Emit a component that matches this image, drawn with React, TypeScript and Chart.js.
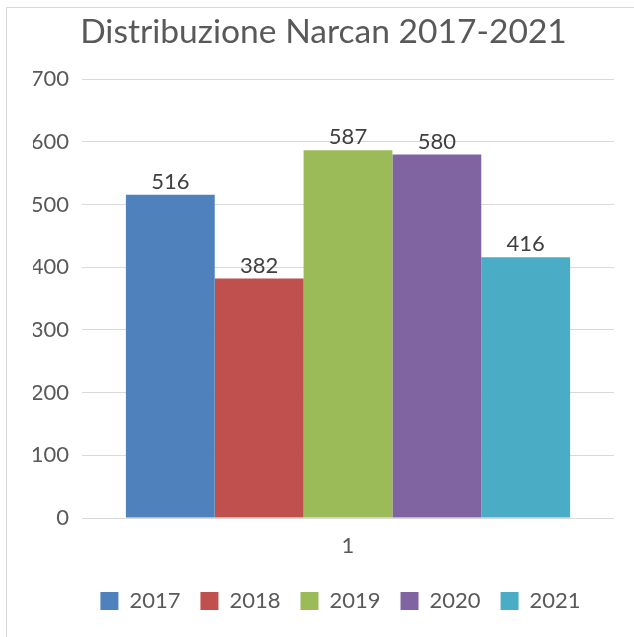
import React, { useEffect, useRef } from "react";
import { Chart, registerables } from "chart.js";

Chart.register(...registerables);

const categories = ["1"];
const seriesLabels = ["2017", "2018", "2019", "2020", "2021"];
const seriesValues = [[516], [382], [587], [580], [416]];
const seriesColors = ["#4F81BD", "#C0504D", "#9BBB59", "#8064A2", "#4BACC6"];
const titleText = "Distribuzione Narcan 2017-2021";
const yMin = 0;
const yMax = 700;
const yStep = 100;

const FONT = "Lato, 'Open Sans', sans-serif";
const TEXT = "#595959";

const valueLabels = {
  id: "valueLabels",
  afterDatasetsDraw(chart: any) {
    const ctx = chart.ctx;
    ctx.save();
    ctx.font = `22px ${FONT}`;
    ctx.fillStyle = "#404040";
    ctx.textAlign = "center";
    ctx.textBaseline = "alphabetic";
    chart.data.datasets.forEach((ds: any, i: number) => {
      const meta = chart.getDatasetMeta(i);
      meta.data.forEach((el: any, j: number) => {
        ctx.fillText(String(ds.data[j]), el.x, el.y - 6);
      });
    });
    ctx.restore();
  },
};

const legendShift = {
  id: "legendShift",
  afterLayout(chart: any) {
    if (chart.legend) {
      chart.legend.left += 17;
      chart.legend.right += 17;
    }
  },
};

export default function App() {
  const ref = useRef<HTMLCanvasElement | null>(null);

  useEffect(() => {
    if (!ref.current) return;
    const chart = new Chart(ref.current, {
      type: "bar",
      data: {
        labels: categories,
        datasets: seriesLabels.map((label, i) => ({
          label,
          data: seriesValues[i],
          backgroundColor: seriesColors[i],
          borderColor: seriesColors[i],
          borderWidth: 0,
          categoryPercentage: 0.835,
          barPercentage: 1,
        })),
      },
      options: {
        responsive: false,
        animation: false,
        layout: { padding: { left: 33, right: 20, top: 0, bottom: 15 } },
        plugins: {
          title: {
            display: true,
            text: titleText,
            color: TEXT,
            font: { family: FONT, size: 33.6, weight: "normal", lineHeight: 1.2 },
            padding: { top: 12, bottom: 27 },
          },
          legend: {
            position: "bottom",
            labels: {
              color: TEXT,
              font: { family: FONT, size: 22 },
              boxWidth: 18,
              boxHeight: 18,
              padding: 20,
            },
          },
          tooltip: { enabled: false },
        },
        scales: {
          x: {
            grid: { display: false, drawTicks: false },
            border: { display: false },
            ticks: { color: TEXT, font: { family: FONT, size: 22 }, padding: 15 },
            afterFit(scale: any) {
              scale.height = 52;
            },
          },
          y: {
            min: yMin,
            max: yMax,
            grid: { color: "#d9d9d9", lineWidth: 1, drawTicks: false },
            border: { display: false },
            ticks: {
              stepSize: yStep,
              color: TEXT,
              font: { family: FONT, size: 22 },
              padding: 13,
            },
            afterFit(scale: any) {
              scale.width = 49;
            },
          },
        },
      },
      plugins: [valueLabels, legendShift],
    });
    return () => chart.destroy();
  }, []);

  return (
    <div
      style={{
        position: "fixed",
        left: 0,
        top: 0,
        width: 634,
        height: 637,
        background: "#fff",
        overflow: "hidden",
      }}
    >
      <div
        style={{
          position: "absolute",
          left: 6,
          top: 7,
          width: 660,
          height: 660,
          border: "1px solid #d9d9d9",
        }}
      />
      <canvas
        ref={ref}
        width={634}
        height={637}
        style={{ position: "absolute", left: 0, top: 0, width: 634, height: 637 }}
      />
    </div>
  );
}
